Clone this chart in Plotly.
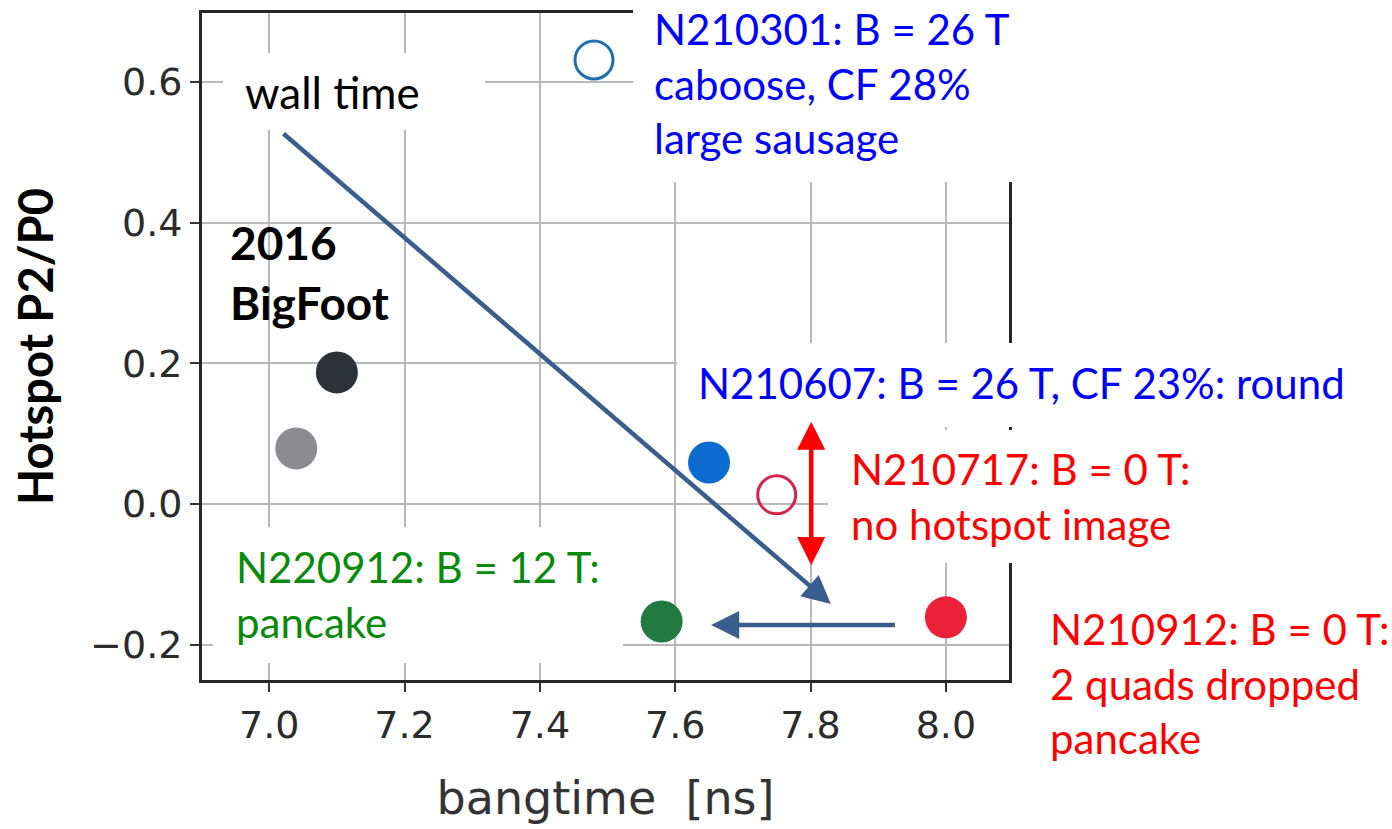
import plotly.graph_objects as go

# ---- data -------------------------------------------------------------
# 2016 BigFoot reference shots
bigfoot_bangtime = [7.10, 7.04]
bigfoot_p2p0 = [0.187, 0.079]
bigfoot_colors = ["#2c3338", "#8c8c90"]

# recent shots (filled = hotspot P2 measured, open = estimate)
shot_ids = ["N210301", "N210607", "N210717", "N220912", "N210912"]
shot_bangtime = [7.48, 7.65, 7.75, 7.58, 8.00]
shot_p2p0 = [0.631, 0.059, 0.013, -0.167, -0.161]
shot_open = [True, False, True, False, False]
shot_colors = ["#1f6db3", "#0b6bd0", "#d8234c", "#217a3f", "#ec2038"]

x_ticks = [7.0, 7.2, 7.4, 7.6, 7.8, 8.0]
y_ticks = [-0.2, 0.0, 0.2, 0.4, 0.6]

# ---- figure geometry ---------------------------------------------------
W, H = 1392, 829
L, R, T, B = 202, 383, 13, 149
X_RANGE = [6.9007, 8.0933]
Y_RANGE = [-0.2501, 0.6977]
PW, PH = W - L - R, H - T - B


def xp(px):
    return (px - L) / PW


def yp(py):
    return (H - B - py) / PH


fig = go.Figure()

fig.add_trace(go.Scatter(
    x=bigfoot_bangtime, y=bigfoot_p2p0, mode="markers",
    marker=dict(size=42, color=bigfoot_colors, line=dict(width=0)),
    showlegend=False, hoverinfo="x+y"))

filled_x = [b for b, o in zip(shot_bangtime, shot_open) if not o]
filled_y = [p for p, o in zip(shot_p2p0, shot_open) if not o]
filled_c = [c for c, o in zip(shot_colors, shot_open) if not o]
open_x = [b for b, o in zip(shot_bangtime, shot_open) if o]
open_y = [p for p, o in zip(shot_p2p0, shot_open) if o]
open_c = [c for c, o in zip(shot_colors, shot_open) if o]

fig.add_trace(go.Scatter(
    x=filled_x, y=filled_y, mode="markers",
    marker=dict(size=42, color=filled_c, line=dict(width=0)),
    showlegend=False, hoverinfo="x+y"))

fig.add_trace(go.Scatter(
    x=open_x, y=open_y, mode="markers",
    marker=dict(size=38, color="rgba(0,0,0,0)",
                line=dict(width=3, color=open_c)),
    showlegend=False, hoverinfo="x+y"))

# ---- white label panels over the grid ------------------------------------
panels = [
    (633, -5, 1040, 182),    # N210301
    (677, 343, 1392, 427),   # N210607
    (828, 430, 1230, 563),   # N210717
    (213, 527, 623, 663),    # N220912
    (223, 53, 485, 130),     # wall time
]
for x0, y0, x1, y1 in panels:
    fig.add_shape(type="rect", xref="paper", yref="paper",
                  x0=xp(x0), x1=xp(x1), y0=yp(y1), y1=yp(y0),
                  fillcolor="white", line=dict(width=0), layer="above")

# ---- text labels ---------------------------------------------------------
BLUE, RED, GREEN = "#0000ff", "#ff0000", "#088a0b"
FONT = "Lato, 'Noto Sans', sans-serif"
labels = [
    ("N210301: B = 26 T<br>caboose, CF 28%<br>large sausage", 652, 84, BLUE, 42),
    ("N210607: B = 26 T, CF 23%: round", 696, 383, BLUE, 42),
    ("N210717: B = 0 T:<br>no hotspot image", 849, 496, RED, 42),
    ("N220912: B = 12 T:<br>pancake", 234, 594, GREEN, 42),
    ("N210912: B = 0 T:<br>2 quads dropped<br>pancake", 1048, 683, RED, 42),
    ("wall time", 243, 92, "black", 44),
    ("<b>2016<br>BigFoot</b>", 228, 272, "black", 46),
]
for text, px, py, color, size in labels:
    fig.add_annotation(text=text, xref="paper", yref="paper",
                       x=xp(px), y=yp(py), xanchor="left", yanchor="middle",
                       align="left", showarrow=False,
                       font=dict(family=FONT, size=size, color=color))

# ---- arrows ----------------------------------------------------------------
NAVY = "#395d8c"
arrows = [
    # (tail x, tail y, head x, head y, color, both ends)
    (7.019, 0.528, 7.830, -0.142, NAVY, False),
    (7.927, -0.172, 7.653, -0.172, NAVY, False),
    (7.801, -0.089, 7.801, 0.117, RED, True),
]
for ax_, ay_, x_, y_, color, both in arrows:
    fig.add_annotation(x=x_, y=y_, ax=ax_, ay=ay_, xref="x", yref="y",
                       axref="x", ayref="y", text="", showarrow=True,
                       arrowhead=2, startarrowhead=2, arrowsize=1.25,
                       startarrowsize=1.25, arrowwidth=4.5, arrowcolor=color,
                       arrowside="end+start" if both else "end",
                       standoff=0, startstandoff=0)

# ---- axes ------------------------------------------------------------------
axis_common = dict(
    showline=True, linecolor="#262626", linewidth=3, mirror=True,
    showgrid=True, gridcolor="#b8b8b8", gridwidth=2, zeroline=False,
    ticks="outside", ticklen=9, tickwidth=2, tickcolor="#333333",
    tickfont=dict(family="DejaVu Sans", size=38, color="#2b2b2b"),
)

fig.update_xaxes(range=X_RANGE, tickvals=x_ticks, tickformat=".1f",
                 title=dict(text="bangtime\u00a0 [ns]", standoff=37,
                            font=dict(family="DejaVu Sans", size=46,
                                      color="#333333")),
                 **axis_common)
fig.update_yaxes(range=Y_RANGE, tickvals=y_ticks, tickformat=".1f",
                 title=dict(text="<b>Hotspot P2/P0</b>", standoff=22,
                            font=dict(family="Lato", size=47, color="black")),
                 **axis_common)

fig.update_layout(
    width=W, height=H, margin=dict(l=L, r=R, t=T, b=B, autoexpand=False),
    paper_bgcolor="white", plot_bgcolor="white",
)

fig.write_html("out.html")
